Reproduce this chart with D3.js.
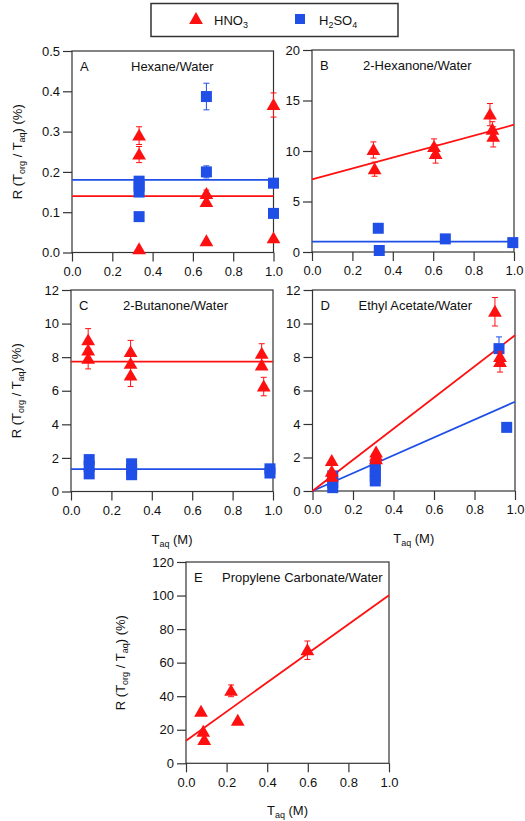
<!DOCTYPE html>
<html><head><meta charset="utf-8">
<script src="https://cdn.jsdelivr.net/npm/d3@7"></script>
<style>body{margin:0;background:#fff;} svg{display:block;font-family:"Liberation Sans",Arial,sans-serif;}</style>
</head><body>
<svg id="chart" width="525" height="821"></svg>
<script>
// ---- data: [x (M), R (%), error] ----
const hexaneHNO3 = [[0.333,0.290,0.022],[0.333,0.243,0.020],[0.333,0.008,0],[0.667,0.145,0.010],[0.667,0.125,0],[0.667,0.028,0],[1.0,0.366,0.030],[1.0,0.035,0]];
const hexaneH2SO4 = [[0.333,0.177,0],[0.333,0.165,0],[0.333,0.150,0],[0.333,0.089,0],[0.667,0.387,0.033],[0.667,0.200,0.015],[1.0,0.172,0],[1.0,0.097,0]];
const hexanoneHNO3 = [[0.304,10.1,0.8],[0.31,8.2,0.7],[0.604,10.4,0.8],[0.612,9.7,0.9],[0.881,13.6,1.1],[0.893,12.1,0.8],[0.897,11.4,1.0]];
const hexanoneH2SO4 = [[0.328,2.35,0],[0.333,0.15,0],[0.66,1.3,0],[0.994,0.93,0]];
const butanoneHNO3 = [[0.085,9.0,0.7],[0.085,8.4,0],[0.085,7.9,0.6],[0.295,8.3,0.7],[0.295,7.6,0],[0.295,6.9,0.65],[0.944,8.2,0.6],[0.944,7.5,0],[0.954,6.25,0.55]];
const butanoneH2SO4 = [[0.09,1.9,0],[0.09,1.5,0],[0.09,1.05,0],[0.3,1.65,0],[0.3,1.3,0],[0.3,1.0,0],[0.985,1.35,0],[0.985,1.1,0]];
const ethylHNO3 = [[0.095,1.79,0],[0.095,1.15,0],[0.095,0.85,0],[0.314,2.3,0],[0.314,2.1,0],[0.314,1.9,0],[0.901,10.7,0.85],[0.926,8.0,0],[0.926,7.7,0.6]];
const ethylH2SO4 = [[0.1,0.9,0],[0.1,0.5,0],[0.1,0.2,0],[0.31,1.5,0],[0.31,1.2,0],[0.31,0.85,0],[0.31,0.6,0],[0.921,8.5,0.7],[0.959,3.8,0]];
const propyleneHNO3 = [[0.074,30.7,0],[0.085,18.8,0],[0.09,13.9,0],[0.222,43.2,3.5],[0.255,25.4,0],[0.598,67.4,5.5]];
// fit lines: value at x=0 and x=1
const fitHexaneHNO3 = [0.14,0.14], fitHexaneH2SO4 = [0.18,0.18];
const fitHexanoneHNO3 = [7.2,12.6], fitHexanoneH2SO4 = [1.03,1.03];
const fitButanoneHNO3 = [7.74,7.74], fitButanoneH2SO4 = [1.33,1.33];
const fitEthylHNO3 = [0,9.3], fitEthylH2SO4 = [0,5.33];
const fitPropyleneHNO3 = [13.5,100.2];
const xTicks = [0,0.2,0.4,0.6,0.8,1.0];
const panelLetters = ["A","B","C","D","E"];
const panelTitles = ["Hexane/Water","2-Hexanone/Water","2-Butanone/Water","Ethyl Acetate/Water","Propylene Carbonate/Water"];
const yMax = [0.5,20,12,12,120];
const yTickSteps = [0.1,5,2,2,20];
const legendLabels = ["HNO3","H2SO4"];

const RED = "#ff1010", BLUE = "#1f4fe6", AX = "#333";
const svg = d3.select("#chart");

const boxes = [
  {l:72,r:273.5,t:51,b:252.5,to:59},
  {l:312,r:514,t:50,b:252,to:51},
  {l:71,r:273,t:290,b:491.5,to:52},
  {l:312.5,r:515,t:290,b:491,to:46},
  {l:186,r:389,t:562,b:763.3,to:36}
];
const panelData = [
  {h:hexaneHNO3,s:hexaneH2SO4,fh:fitHexaneHNO3,fs:fitHexaneH2SO4,fmt:".1f",ylab:true,xlab:false},
  {h:hexanoneHNO3,s:hexanoneH2SO4,fh:fitHexanoneHNO3,fs:fitHexanoneH2SO4,fmt:"d",ylab:false,xlab:false},
  {h:butanoneHNO3,s:butanoneH2SO4,fh:fitButanoneHNO3,fs:fitButanoneH2SO4,fmt:"d",ylab:true,xlab:true},
  {h:ethylHNO3,s:ethylH2SO4,fh:fitEthylHNO3,fs:fitEthylH2SO4,fmt:"d",ylab:false,xlab:true},
  {h:propyleneHNO3,s:null,fh:fitPropyleneHNO3,fs:null,fmt:"d",ylab:true,xlab:true}
];

const tri = d3.symbol().type(d3.symbolTriangle).size(82);

panelData.forEach((p,i)=>{
  const bx = boxes[i];
  const x = d3.scaleLinear().domain([0,1]).range([bx.l,bx.r]);
  const y = d3.scaleLinear().domain([0,yMax[i]]).range([bx.b,bx.t]);
  const g = svg.append("g");
  const yt = d3.range(0,yMax[i]+yTickSteps[i]/2,yTickSteps[i]);

  // frame
  g.append("rect").attr("x",bx.l).attr("y",bx.t).attr("width",bx.r-bx.l).attr("height",bx.b-bx.t)
    .attr("fill","none").attr("stroke",AX).attr("stroke-width",1.2);
  const xa = g.append("g").attr("transform",`translate(0,${bx.b})`)
    .call(d3.axisBottom(x).tickValues(xTicks).tickFormat(d3.format(".1f")).tickSize(9).tickPadding(5));
  const ya = g.append("g").attr("transform",`translate(${bx.l},0)`)
    .call(d3.axisLeft(y).tickValues(yt).tickFormat(d3.format(p.fmt)).tickSize(9).tickPadding(3));
  [xa,ya].forEach(a=>{
    a.select(".domain").remove();
    a.selectAll("line").attr("stroke",AX).attr("stroke-width",1.2);
    a.selectAll("text").attr("fill","#111").style("font-size","13px").style("font-family","'Liberation Sans',Arial,sans-serif");
  });

  // fit lines
  const line = d3.line().x(d=>x(d[0])).y(d=>y(d[1]));
  if(p.fs) g.append("path").attr("d",line([[0,p.fs[0]],[1,p.fs[1]]])).attr("stroke",BLUE).attr("stroke-width",1.8).attr("fill","none");
  g.append("path").attr("d",line([[0,p.fh[0]],[1,p.fh[1]]])).attr("stroke",RED).attr("stroke-width",1.8).attr("fill","none");

  // error bars
  function errs(data,color){
    data.filter(d=>d[2]>0).forEach(d=>{
      const cx=x(d[0]), y1=y(d[1]+d[2]), y2=y(d[1]-d[2]);
      g.append("line").attr("x1",cx).attr("x2",cx).attr("y1",y1).attr("y2",y2).attr("stroke",color).attr("stroke-width",1);
      [y1,y2].forEach(yy=>g.append("line").attr("x1",cx-3).attr("x2",cx+3).attr("y1",yy).attr("y2",yy).attr("stroke",color).attr("stroke-width",1));
    });
  }
  if(p.s){
    errs(p.s,BLUE);
    g.selectAll(".sq").data(p.s).enter().append("rect")
      .attr("x",d=>x(d[0])-5.5).attr("y",d=>y(d[1])-5.5).attr("width",11).attr("height",11).attr("fill",BLUE);
  }
  errs(p.h,RED);
  g.selectAll(".tr").data(p.h).enter().append("path")
    .attr("d",tri).attr("transform",d=>`translate(${x(d[0])},${y(d[1])+1})`).attr("fill",RED);

  // titles
  g.append("text").attr("x",bx.l+8).attr("y",bx.t+20).text(panelLetters[i]).style("font-size","13px").attr("fill","#111");
  g.append("text").attr("x",bx.l+bx.to).attr("y",bx.t+20).text(panelTitles[i]).style("font-size","13px").attr("fill","#111");

  // axis labels
  if(p.ylab){
    const t = g.append("text").attr("transform",`translate(${bx.l-(i===4?61:50)},${(bx.t+bx.b)/2}) rotate(-90)`)
      .attr("text-anchor","middle").style("font-size","13px").attr("fill","#111");
    t.append("tspan").text("R (T");
    t.append("tspan").text("org").style("font-size","9px").attr("dy",3);
    t.append("tspan").text(" / T").attr("dy",-3);
    t.append("tspan").text("aq").style("font-size","9px").attr("dy",3);
    t.append("tspan").text(") (%)").attr("dy",-3);
  }
  if(p.xlab){
    const t = g.append("text").attr("x",(bx.l+bx.r)/2).attr("y",bx.b+52)
      .attr("text-anchor","middle").style("font-size","13px").attr("fill","#111");
    t.append("tspan").text("T");
    t.append("tspan").text("aq").style("font-size","9px").attr("dy",3);
    t.append("tspan").text(" (M)").attr("dy",-3);
  }
});

// legend
const lg = svg.append("g");
lg.append("rect").attr("x",151).attr("y",3.5).attr("width",247).attr("height",33).attr("fill","#fff").attr("stroke",AX).attr("stroke-width",1.5);
lg.append("path").attr("d",tri).attr("transform","translate(196,20)").attr("fill",RED);
lg.append("rect").attr("x",295).attr("y",14).attr("width",10).attr("height",10).attr("fill",BLUE);
function chem(xp,label){
  const t = lg.append("text").attr("x",xp).attr("y",25).style("font-size","13px").attr("fill","#111");
  const parts = label.match(/[A-Z]+|\d/g);
  let sub = false;
  parts.forEach(pt=>{
    if(/\d/.test(pt)){ t.append("tspan").text(pt).style("font-size","9px").attr("dy",3); sub = true; }
    else { t.append("tspan").text(pt).attr("dy",sub?-3:0); sub = false; }
  });
}
chem(214,legendLabels[0]);
chem(319,legendLabels[1]);
</script>
</body></html>
